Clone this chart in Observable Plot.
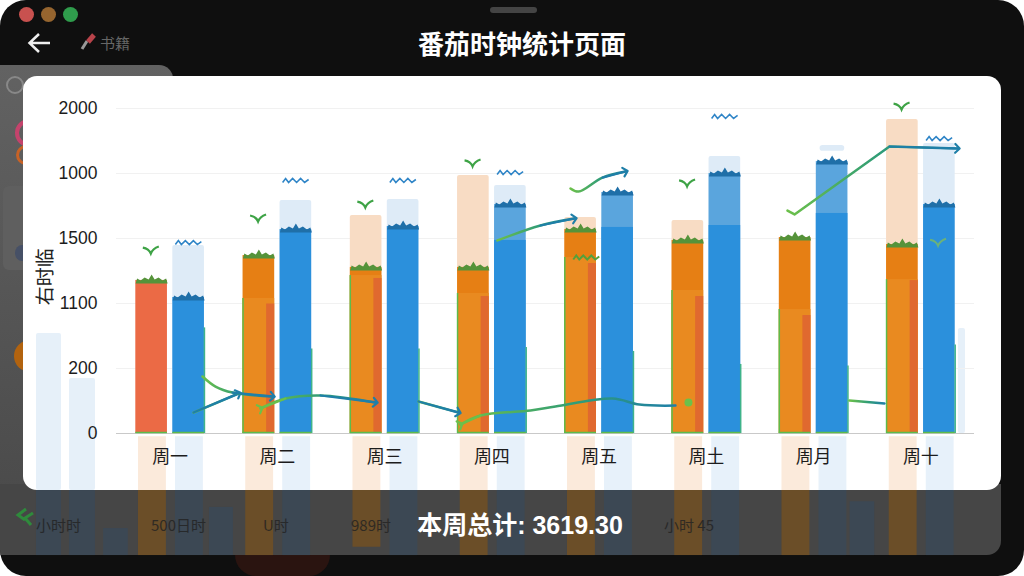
<!doctype html>
<html lang="zh">
<head>
<meta charset="utf-8">
<script src="https://cdn.jsdelivr.net/npm/d3@7"></script>
<script src="https://cdn.jsdelivr.net/npm/@observablehq/plot@0.6"></script>
<style>
html,body{margin:0;padding:0;background:#fff;width:1024px;height:576px;overflow:hidden}
body{font-family:"Noto Sans CJK SC","Liberation Sans",sans-serif}
#win{position:absolute;left:0;top:0;width:1024px;height:576px;background:#0f0f0f;border-radius:26px;overflow:hidden}
#win>*{position:absolute}
.light{width:15px;height:15px;border-radius:50%;top:7px}
#side{left:0;top:65px;width:173px;height:430px;background:linear-gradient(#626262,#4b4b4b);border-top-right-radius:14px}
#foot{left:0;top:484px;width:1001px;height:71px;background:#464646;border-bottom-right-radius:14px}
#card{left:23px;top:76px;width:978px;height:414px;background:#fff;border-radius:14px}
#chart{left:0;top:76px;width:1024px;height:479px}
#chart svg{background:transparent;display:block}
.faint{top:515px;font-size:15px;color:#222;opacity:.8;line-height:20px;white-space:nowrap}
#title{left:312px;width:420px;top:25px;text-align:center;color:#fff;font-size:26px;font-weight:700;line-height:36px}
#total{left:360px;width:320px;top:508px;text-align:center;color:#fff;font-size:25px;font-weight:700;line-height:34px;font-family:"Liberation Sans","Noto Sans CJK SC",sans-serif}
</style>
</head>
<body>
<div id="win">
  <div class="light" style="left:19px;background:#c8514f"></div>
  <div class="light" style="left:41px;background:#96652f"></div>
  <div class="light" style="left:63px;background:#2f9c4c"></div>
  <div style="left:490px;top:7px;width:47px;height:6px;border-radius:3px;background:#444"></div>
  <svg style="left:26px;top:30px" width="28" height="26" viewBox="0 0 28 26"><path d="M24 13H4M13 4L3.500 13L13 22" fill="none" stroke="#eee" stroke-width="2.500"/></svg>
  <svg style="left:79px;top:32px" width="20" height="20" viewBox="0 0 20 20"><path d="M3 17L8 9" stroke="#999" stroke-width="3"/><path d="M9 10L15 3" stroke="#b8434a" stroke-width="5"/></svg>
  <div style="left:100px;top:32px;color:#666;font-size:15px;line-height:22px">书籍</div>
  <div id="title">番茄时钟统计页面</div>
  <div id="side"></div>
  <div style="left:6px;top:76px;width:14px;height:14px;border:2px solid #888;border-radius:50%"></div>
  <div style="left:15px;top:119px;width:20px;height:20px;border:4px solid #c4436c;border-radius:50%"></div>
  <div style="left:16px;top:145px;width:14px;height:14px;border:3px solid #c76226;border-radius:50%"></div>
  <div style="left:3px;top:186px;width:40px;height:84px;background:#5f5f5f;border-radius:6px"></div>
  <div style="left:15px;top:245px;width:14px;height:16px;background:#465066;border-radius:50%"></div>
  <div style="left:14px;top:340px;width:32px;height:32px;background:#b2630f;border-radius:50%"></div>
  <div id="foot"></div>
  <div style="left:235px;top:555px;width:95px;height:21px;background:#2a1410;border-radius:0 0 47px 47px"></div>
  <div id="card"></div>
  <div id="chart"></div>
  <svg style="left:14px;top:506px" width="22" height="22" viewBox="0 0 22 22"><path d="M12 3L4 9L11 14M19 7L11 12L17 19" fill="none" stroke="#2f8a3c" stroke-width="3"/></svg>
  <div class="faint" style="left:36px">小时时</div>
  <div class="faint" style="left:151px">500日时</div>
  <div class="faint" style="left:263px">U时</div>
  <div class="faint" style="left:351px">989时</div>
  <div class="faint" style="left:664px">小时 45</div>
  <div id="total">本周总计: 3619.30</div>
</div>
<script>
const days = ["周一","周二","周三","周四","周五","周土","周月","周十"];
const yTickValues = [0,400,800,1200,1600,2000];
const yTickLabels = ["0","200","1100","1500","1000","2000"];
const yTitle = "右时临";

const orangeDone = [942,1095,1022,1022,1255,1188,1206,1163];
const orangeGoal = [null,null,1342,1588,1329,1311,null,1932];
const orangeStrip = [null,797,954,843,1046,843,726,941];
const orangeEdge = [null,831,972,862,1083,880,763,947];
const blueDone = [837,1255,1274,1188,1268,1280,1354,1409];
const blueMid = [null,null,null,1409,1483,1600,1674,null];
const blueGoal = [1157,1434,1440,1526,null,1705,null,1785];
const blueEdge = [650,520,520,530,505,425,415,545];
const blueCap = [null,null,null,null,null,null,1772,null];

const wingDay = [0,1,2,3,5,7];
const wingValue = [1132,1329,1415,1668,1545,2018];
const waveDay = [0,1,2,3,5,7];
const waveValue = [1175,1557,1557,1606,1951,1815];
const faintWingX = [7.66];
const faintWingY = [1180];
const innerWaveX = [4.38];
const innerWaveY = [1083];

const orangeFoot = [-751,-751,-700,-751,-751,-751,-751,-751];
const blueFoot = [-751,-751,-751,-751,-751,-751,-751,-751];
const sidePos = [[-0.746,-0.513],[-0.438,-0.196],[7.85,7.916]];
const sideTop = [615,338,646];
const sideBottom = [-351,-351,0];
const darkPos = [[-0.746,-0.513],[-0.438,-0.196],[-0.12,0.11],[0.867,1.09],[6.84,7.07]];
const darkTop = [-351,-351,-585,-455,-420];

const trendX = [
  [0.718,1.138],
  [0.802,0.923,1.082,1.455],
  [1.343,1.576,1.902,2.415],
  [2.816,3.189],
  [3.207,3.394,3.86,4.093,4.625,4.876,5.212],
  [6.834,7.161],
  [3.552,3.953,4.27],
  [4.233,4.308,4.531,4.746],
  [6.256,6.322,7.207,7.841]
];
const trendY = [
  [129,246],
  [351,289,252,228],
  [154,215,234,191],
  [197,129],
  [55,111,142,166,215,178,172],
  [203,185],
  [1188,1280,1323],
  [1508,1489,1575,1612],
  [1372,1348,1766,1754]
];
const trendHead = [true,true,true,true,false,false,true,true,true];
const trendTail = [false,false,true,false,true,false,false,false,false];
const endDotX = [5.333];
const endDotY = [191];

const orange = "#e67f14", tomato = "#eb6a45", strip = "#e0692f", blue = "#2b90dc";
const green = "#5dbb4b", teal = "#1f7fa8";
const oL = -0.32, oR = -0.025, bL = 0.025, bR = 0.32;

const crest = {draw(c) {
  c.moveTo(-16, 3); c.lineTo(-14.5, -2); c.lineTo(-11, 0); c.lineTo(-7, -3); c.lineTo(-3, -1);
  c.lineTo(0, -6); c.lineTo(3, -1); c.lineTo(7, -3); c.lineTo(11, 0); c.lineTo(14.500, -2); c.lineTo(16, 3); c.closePath();
}};
const wing = {draw(c) {
  c.moveTo(-8, -2); c.quadraticCurveTo(-2, -1, 0, 4); c.quadraticCurveTo(2, -1, 8, -3);
}};
const wave = {draw(c) {
  c.moveTo(-13, 2); c.lineTo(-10, -2); c.lineTo(-7, 2); c.lineTo(-3, -2); c.lineTo(1, 2); c.lineTo(5, -2); c.lineTo(9, 2); c.lineTo(13, -1);
}};

const rows = (vals, l, r, base = 0) => vals.flatMap((v, i) => v == null ? [] : [{x1: i + .5 + l, x2: i + .5 + r, y1: base, y2: v, i}]);
const bars = (vals, l, r, fill, extra = {}) => Plot.rectY(rows(vals, l, r), {x1: "x1", x2: "x2", y1: "y1", y2: "y2", fill, ...extra});
const caps = (vals, l, r, fill) => Plot.dot(vals.flatMap((v, i) => v == null ? [] : [{x: i + .5 + (l + r) / 2, y: v}]), {
  x: "x", y: "y", symbol: crest, r: 3, fill, stroke: "none"
});

const gradient = () => {
  const d = d3.create("svg:defs");
  const g = d.append("linearGradient").attr("id", "fade");
  g.append("stop").attr("offset", "0%").attr("stop-color", "#6cc04a");
  g.append("stop").attr("offset", "55%").attr("stop-color", "#2f9c78");
  g.append("stop").attr("offset", "100%").attr("stop-color", teal);
  return d.node();
};

const trendMarks = trendX.flatMap((xs, k) => {
  const pts = xs.map((x, j) => ({x, y: trendY[k][j]}));
  const out = [Plot.line(pts, {x: "x", y: "y", curve: k === 8 ? "linear" : "catmull-rom", stroke: "url(#fade)", strokeWidth: 2.500})];
  if (trendHead[k]) out.push(Plot.line(pts.slice(-2), {x: "x", y: "y", stroke: teal, strokeWidth: 2.200, markerEnd: "arrow"}));
  if (trendTail[k]) out.push(Plot.line(pts.slice(0, 2), {x: "x", y: "y", stroke: "#6cc04a", strokeWidth: 2.200, markerStart: "arrow"}));
  return out;
});

const plot = Plot.plot({
  width: 1024, height: 479,
  marginLeft: 116, marginRight: 50, marginTop: 32, marginBottom: 122,
  style: {background: "transparent", overflow: "visible"},
  x: {domain: [0, 8], axis: null},
  y: {domain: [0, 2000], axis: null},
  marks: [
    gradient,
    Plot.rectY(rows(orangeFoot.map(() => -351), -0.295, -0.035, -20), {x1: "x1", x2: "x2", y1: "y1", y2: "y2", fill: "#fbeadb"}),
    Plot.rectY(rows(blueFoot.map(() => -351), 0.05, 0.31, -20), {x1: "x1", x2: "x2", y1: "y1", y2: "y2", fill: "#e7f1fa"}),
    Plot.rectY(orangeFoot.map((v, i) => ({x1: i + .205, x2: i + .465, y1: -351, y2: v})), {x1: "x1", x2: "x2", y1: "y1", y2: "y2", fill: "#6b4e28"}),
    Plot.rectY(blueFoot.map((v, i) => ({x1: i + .55, x2: i + .81, y1: -351, y2: v})), {x1: "x1", x2: "x2", y1: "y1", y2: "y2", fill: "#3c4854"}),
    Plot.rectY(sidePos.map((p, i) => ({x1: p[0], x2: p[1], y1: sideBottom[i], y2: sideTop[i]})), {x1: "x1", x2: "x2", y1: "y1", y2: "y2", fill: "#e6f0f9", rx: 2}),
    Plot.rectY(darkPos.map((p, i) => ({x1: p[0], x2: p[1], y1: -751, y2: darkTop[i]})), {x1: "x1", x2: "x2", y1: "y1", y2: "y2", fill: "#3c4854"}),
    Plot.ruleY(yTickValues.slice(1), {stroke: "#f1f1f1"}),
    Plot.ruleY([0], {stroke: "#c9c9c9", strokeWidth: 1.200}),
    Plot.axisY({ticks: yTickValues, tickSize: 0, tickPadding: 19, label: null, tickFormat: d => yTickLabels[yTickValues.indexOf(d)], fontSize: 17.500, fontFamily: "Liberation Sans", fill: "#1c1c1c"}),
    Plot.axisX({ticks: days.map((_, i) => i + .5), tickSize: 0, tickPadding: 17, label: null, tickFormat: d => days[d - .5], fontSize: 18, fontFamily: "Noto Sans CJK SC", fill: "#1c1c1c"}),
    Plot.text([yTitle], {x: [-0.662], y: [965], text: d => d, rotate: -90, fontSize: 19, fontFamily: "Noto Sans CJK SC", fill: "#222"}),
    bars(orangeGoal, oL, oR, "#f8dcc4", {rx: 2}),
    bars(blueGoal, bL, bR, "#deebf7", {rx: 2}),
    Plot.rectY(blueCap.flatMap((v, i) => v == null ? [] : [{x1: i + .5 + .06, x2: i + .5 + .29, y1: v - 35, y2: v}]), {x1: "x1", x2: "x2", y1: "y1", y2: "y2", fill: "#deebf7", rx: 3}),
    bars(blueMid, bL, bR, "#5aa5dd"),
    bars(blueDone, bL, bR, blue),
    Plot.rectY(rows(orangeDone, oL, oR), {x1: "x1", x2: "x2", y1: "y1", y2: "y2", fill: d => d.i === 0 ? tomato : orange}),
    bars(orangeEdge, oL, oR, "#e98a20"),
    bars(orangeStrip, -0.1, oR, strip),
    Plot.ruleX(orangeEdge.flatMap((v, i) => v == null ? [] : [{x: i + .5 + oL, y: v}]), {x: "x", y1: 0, y2: "y", stroke: green, strokeWidth: 1.500}),
    Plot.ruleX(blueEdge.map((v, i) => ({x: i + .5 + bR, y: v})), {x: "x", y1: 0, y2: "y", stroke: "#3fb38a", strokeWidth: 1.500}),
    Plot.ruleY(rows(orangeDone, oL, oR), {x1: "x1", x2: "x2", y: 0, dy: -1, stroke: green, strokeWidth: 1.500}),
    Plot.ruleY(rows(blueDone, bL, bR), {x1: "x1", x2: "x2", y: 0, dy: -1, stroke: green, strokeWidth: 1.500}),
    caps(orangeDone, oL, oR, "#55933a"),
    caps(blueDone.map((v, i) => blueMid[i] == null ? v : null), bL, bR, "#1f6fa8"),
    caps(blueMid, bL, bR, "#1f6fa8"),
    Plot.dot(wingDay, {x: d => d + .32, y: (d, i) => wingValue[i], symbol: wing, r: 3, stroke: "#3ea346", strokeWidth: 2.200, fill: "none"}),
    Plot.dot(waveDay, {x: d => d + .67, y: (d, i) => waveValue[i], symbol: wave, r: 3, stroke: "#2f85c7", strokeWidth: 1.600, fill: "none"}),
    Plot.dot(faintWingX, {x: d => d, y: (d, i) => faintWingY[i], symbol: wing, r: 3, stroke: "#6bb27a", strokeWidth: 2, fill: "none"}),
    Plot.dot(innerWaveX, {x: d => d, y: (d, i) => innerWaveY[i], symbol: wave, r: 3, stroke: "#55a03a", strokeWidth: 2, fill: "none"}),
    ...trendMarks,
    Plot.dot(endDotX, {x: d => d, y: (d, i) => endDotY[i], r: 4, fill: "#6cc04a"})
  ]
});
document.getElementById("chart").appendChild(plot);
</script>
</body>
</html>
